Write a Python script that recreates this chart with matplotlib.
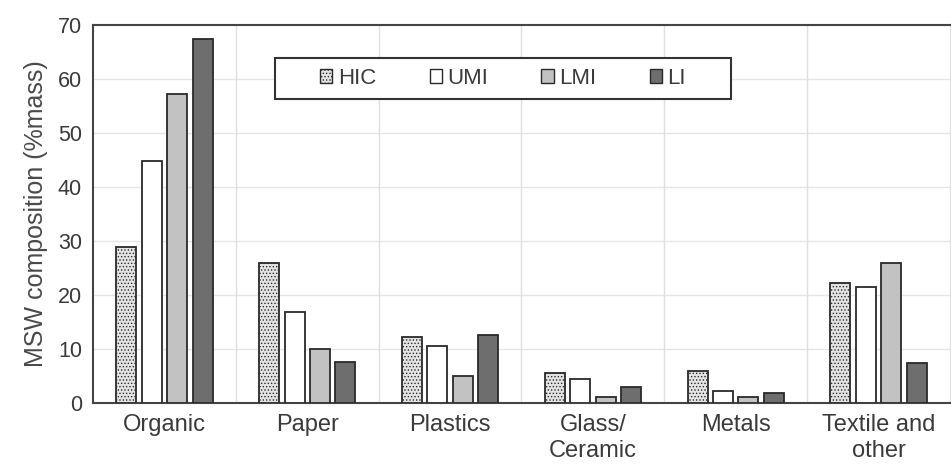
import numpy as np
import matplotlib.pyplot as plt
from matplotlib.patches import Rectangle

plt.rcParams['font.family'] = ['Liberation Sans', 'DejaVu Sans']
plt.rcParams['hatch.color'] = '#666666'
plt.rcParams['hatch.linewidth'] = 0.6

# dados
categorias = ['Organic', 'Paper', 'Plastics', 'Glass/\nCeramic', 'Metals', 'Textile and\nother']
grupos = ['HIC', 'UMI', 'LMI', 'LI']
hic = [28.8, 26.0, 12.3, 5.6, 6.0, 22.2]
umi = [44.8, 16.8, 10.5, 4.4, 2.2, 21.4]
lmi = [57.3, 10.0, 5.0, 1.2, 1.1, 26.0]
li = [67.5, 7.6, 12.6, 3.0, 1.8, 7.5]

series = [hic, umi, lmi, li]
cores = ['#e4e4e4', '#ffffff', '#c2c2c2', '#6e6e6e']
hachuras = ['.....', None, None, None]
cor_texto = '#3a3a3a'

fig = plt.figure(figsize=(9.51, 4.71), dpi=100)
ax = fig.add_axes([93/951, 68/471, 857/951, 378/471])

x = np.arange(len(categorias))
passo = 0.178
largura = 0.14
for i, (vals, cor, h) in enumerate(zip(series, cores, hachuras)):
    ax.bar(x + (i - 1.5) * passo, vals, largura, color=cor, edgecolor='#2a2a2a',
           linewidth=1.3, hatch=h, label=grupos[i], zorder=3)

ax.set_xlim(-0.5, len(categorias) - 0.5)
ax.set_ylim(0, 70)
ax.set_yticks(range(0, 71, 10))
ax.set_xticks(x)
ax.set_xticklabels(categorias, fontsize=17, color=cor_texto, linespacing=1.2)
ax.tick_params(axis='y', labelsize=15.5, labelcolor=cor_texto, length=0, pad=8)
ax.tick_params(axis='x', length=0, pad=8)

# grade
for yv in range(10, 70, 10):
    ax.axhline(yv, color='#e6e6e6', linewidth=1.0, zorder=0)
for xv in np.arange(0.5, len(categorias) - 0.5, 1):
    ax.axvline(xv, color='#e0e0e0', linewidth=1.0, zorder=0)

for lado in ['left', 'bottom', 'top']:
    ax.spines[lado].set_color('#444444')
    ax.spines[lado].set_linewidth(1.5)
ax.spines['right'].set_color('#dddddd')

ax.set_ylabel('MSW composition (%mass)', fontsize=18, color='#4a4a4a', labelpad=7)

# caixa da legenda desenhada à parte
ax.add_patch(Rectangle((0.212, 0.804), 0.533, 0.109, transform=ax.transAxes,
                       facecolor='white', edgecolor='#333333', linewidth=1.5, zorder=4))
leg = ax.legend(loc='center', bbox_to_anchor=(0.4785, 0.8585), ncol=4, fontsize=16,
                frameon=False, handlelength=0.55, handleheight=0.55,
                columnspacing=2.4, handletextpad=0.25, labelcolor=cor_texto)
leg.set_zorder(5)
for p in leg.get_patches():
    p.set_linewidth(1.0)

fig.savefig('out.png', dpi=100)
